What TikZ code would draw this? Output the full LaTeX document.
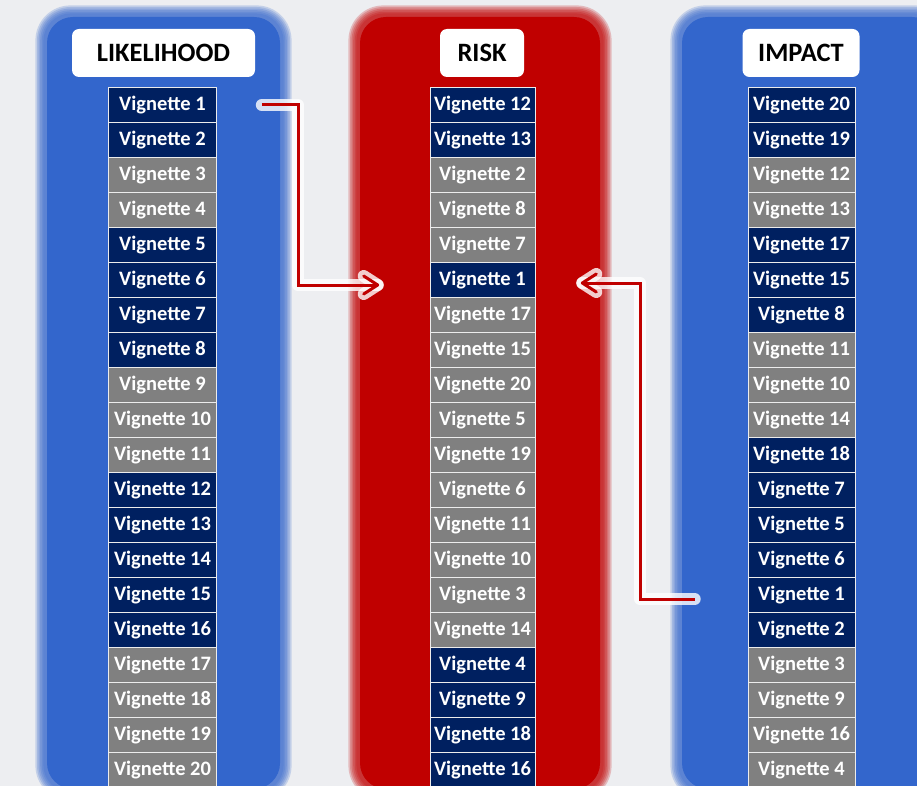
\documentclass[tikz,border=0pt]{standalone}
\usepackage{fontspec}
\setmainfont{Carlito}
\usetikzlibrary{positioning}
\definecolor{bgray}{HTML}{EDEEF1}
\definecolor{panelblue}{HTML}{3366CC}
\definecolor{panelred}{HTML}{C00000}
\definecolor{navy}{HTML}{002060}
\definecolor{cellgray}{HTML}{808080}
\definecolor{arrowred}{HTML}{C00000}

\begin{document}
\begin{tikzpicture}[x=1pt,y=1pt,semithick]
  \tikzstyle{cell}=[draw=white!85!gray,line width=0.6pt,minimum width=108pt,minimum height=35pt,
                    inner sep=0pt,text=white,font=\fontsize{20.5}{21}\selectfont\bfseries]
  \tikzstyle{header}=[fill=white,rounded corners=7pt,minimum height=48pt,inner sep=0pt,
                      font=\fontsize{26.5}{27}\selectfont\bfseries,text=black]
  \tikzstyle{link}=[draw=arrowred,line width=3pt,line join=miter]
  \tikzstyle{barb}=[draw=arrowred,line width=3pt,line cap=round,line join=round]
  \tikzstyle{glow}=[draw=white,line width=12pt,opacity=0.8,line cap=round,line join=round]

  \useasboundingbox[fill=bgray] (0,0) rectangle (917,-786);

  % soft panels
  \foreach \xa/\xb/\col in {45/282/panelblue,358/602/panelred,680/940/panelblue}{
    \foreach \k in {6,5,...,1}
      \fill[\col,opacity=0.22,rounded corners={26pt+1.5*\k pt}]
        (\xa-1.6*\k,-15+1.6*\k) rectangle (\xb+1.6*\k,-791-1.6*\k);
    \fill[\col,rounded corners=26pt] (\xa+2,-17) rectangle (\xb-2,-789);
  }

  \node[header,minimum width=183pt] (likelihood) at (163.5,-53) {LIKELIHOOD};
  \node[header,minimum width=84pt] (risk) at (482,-53) {RISK};
  \node[header,minimum width=117pt] (impact) at (801,-53) {IMPACT};

  % likelihood column
  \foreach \v/\c [count=\i] in {1/navy,2/navy,3/cellgray,4/cellgray,5/navy,6/navy,7/navy,8/navy,
      9/cellgray,10/cellgray,11/cellgray,12/navy,13/navy,14/navy,15/navy,16/navy,
      17/cellgray,18/cellgray,19/cellgray,20/cellgray}
    \node[cell,fill=\c] (l\i) at (162.5,{-105-35*(\i-1)}) {Vignette \v};

  % risk column
  \foreach \v/\c [count=\i] in {12/navy,13/navy,2/cellgray,8/cellgray,7/cellgray,1/navy,
      17/cellgray,15/cellgray,20/cellgray,5/cellgray,19/cellgray,6/cellgray,11/cellgray,
      10/cellgray,3/cellgray,14/cellgray,4/navy,9/navy,18/navy,16/navy}
    \node[cell,fill=\c,minimum width=105pt] (r\i) at (482.5,{-105-35*(\i-1)}) {Vignette \v};

  % impact column
  \foreach \v/\c [count=\i] in {20/navy,19/navy,12/cellgray,13/cellgray,17/navy,15/navy,8/navy,
      11/cellgray,10/cellgray,14/cellgray,18/navy,7/navy,5/navy,6/navy,1/navy,2/navy,
      3/cellgray,9/cellgray,16/cellgray,4/cellgray}
    \node[cell,fill=\c,minimum width=107pt] (i\i) at (801.5,{-105-35*(\i-1)}) {Vignette \v};

  \coordinate (lstart) at ([xshift=45pt]l1.east);
  \coordinate (lend) at ([xshift=-52pt,yshift=-5pt]r6.west);
  \coordinate (lbend) at (298,0);
  \coordinate (istart) at ([xshift=-53pt,yshift=-4pt]i15.west);
  \coordinate (iend) at ([xshift=47pt,yshift=-3pt]r6.east);
  \coordinate (ibend) at (640,0);

  % white halo, then the red connectors with their barbs
  \draw[glow] (lstart) -| (lbend |- lend) -- (lend);
  \draw[glow] ([shift={(-14,9)}]lend) -- (lend) -- ([shift={(-14,-9)}]lend);
  \draw[glow] (istart) -| (ibend |- iend) -- (iend);
  \draw[glow] ([shift={(14,9)}]iend) -- (iend) -- ([shift={(14,-9)}]iend);
  \draw[link] (lstart) -| (lbend |- lend) -- ([xshift=-2pt]lend);
  \draw[barb] ([shift={(-14,9)}]lend) -- (lend) -- ([shift={(-14,-9)}]lend);
  \draw[link] (istart) -| (ibend |- iend) -- ([xshift=2pt]iend);
  \draw[barb] ([shift={(14,9)}]iend) -- (iend) -- ([shift={(14,-9)}]iend);
\end{tikzpicture}
\end{document}
